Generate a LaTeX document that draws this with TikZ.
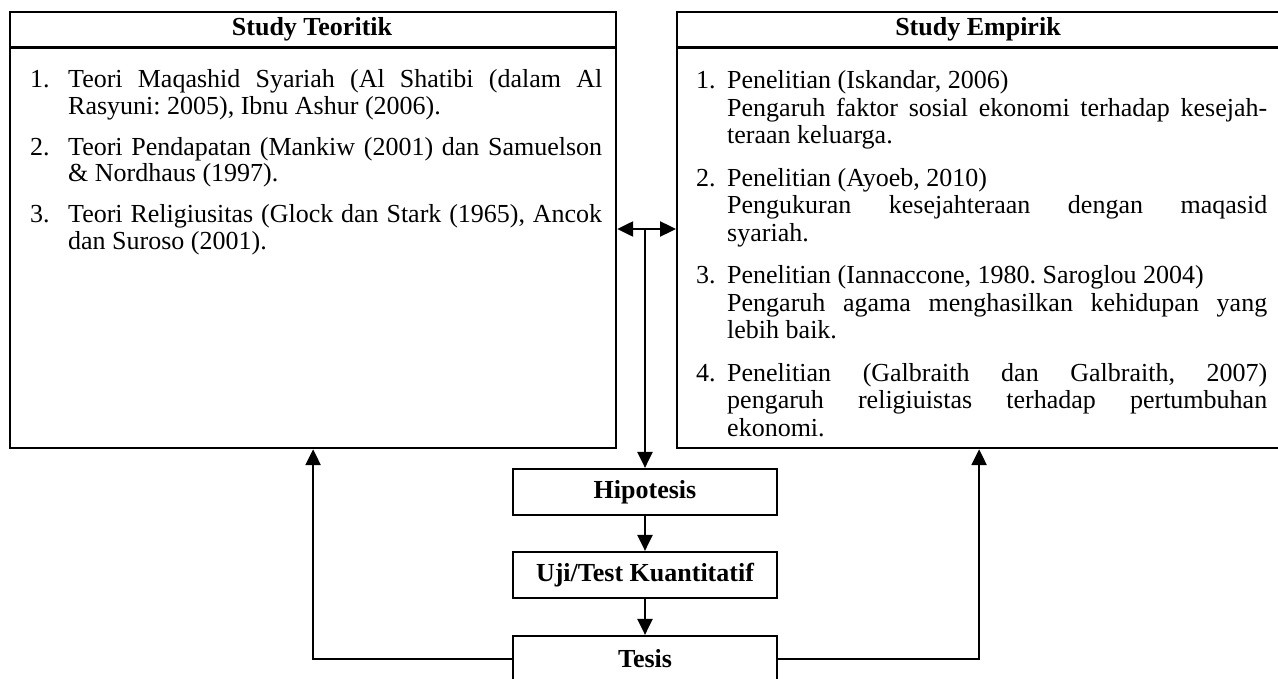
\documentclass[tikz,border=0pt]{standalone}
\usepackage{fontspec}
\setmainfont{Liberation Serif}
\usetikzlibrary{arrows.meta}
\newlength\indw
\newcommand\itm[2]{\par\noindent\hangindent=\indw\hangafter=1\makebox[\indw][l]{#1}#2\par}
\begin{document}
\begin{tikzpicture}[x=1pt,y=-1pt,
  panel/.style={draw, line width=2.2pt, inner sep=0pt, anchor=north west, minimum height=436pt},
  hdr/.style={font=\bfseries\fontsize{26pt}{28pt}\selectfont, inner sep=0pt},
  body/.style={anchor=north west, inner sep=0pt, align=justify},
  lbl/.style={draw, line width=2.2pt, minimum width=264pt, minimum height=46pt, inner sep=0pt,
    font=\bfseries\fontsize{26pt}{28pt}\selectfont},
  conn/.style={line width=2.4pt, -{Triangle[length=16pt,width=15pt]}},
  dconn/.style={line width=2.4pt, {Triangle[length=16pt,width=15pt]}-{Triangle[length=16pt,width=15pt]}}
]
\useasboundingbox (0,0) rectangle (1278,679);
% panels
\node[panel, minimum width=606pt] (lbox) at (9,11) {};
\node[panel, minimum width=604pt] (rbox) at (676,11) {};
\draw[line width=3pt] ([yshift=-37pt]lbox.north west) -- ([yshift=-37pt]lbox.north east);
\draw[line width=3pt] ([yshift=-37pt]rbox.north west) -- ([yshift=-37pt]rbox.north east);
\node[hdr] (lt) at (312,29.5) {Study Teoritik};
\node[hdr] (rt) at (978,29.5) {Study Empirik};
% left text
\node[body, text width=572pt] (ltext) at (30,61) {\fontsize{26pt}{26.5pt}\selectfont\frenchspacing
  \setlength\indw{38pt}%
  \itm{1.}{Teori Maqashid Syariah (Al Shatibi (dalam Al\linebreak Rasyuni: 2005), Ibnu Ashur (2006).}
  \vspace{14.5pt}
  \itm{2.}{Teori Pendapatan (Mankiw (2001) dan Samuelson\linebreak \& Nordhaus (1997).}
  \vspace{14.5pt}
  \itm{3.}{Teori Religiusitas (Glock dan Stark (1965), Ancok\linebreak dan Suroso (2001).}
};
% right text
\node[body, text width=571pt] (rtext) at (696,61) {\fontsize{26pt}{27.5pt}\selectfont\frenchspacing
  \setlength\indw{31pt}%
  \itm{1.}{Penelitian (Iskandar, 2006)\\ Pengaruh faktor sosial ekonomi terhadap kesejah-\linebreak teraan keluarga.}
  \vspace{15pt}
  \itm{2.}{Penelitian (Ayoeb, 2010)\\ Pengukuran kesejahteraan dengan maqasid\linebreak syariah.}
  \vspace{15pt}
  \itm{3.}{Penelitian (Iannaccone, 1980. Saroglou 2004)\\ Pengaruh agama menghasilkan kehidupan yang\linebreak lebih baik.}
  \vspace{15pt}
  \itm{4.}{Penelitian (Galbraith dan Galbraith, 2007)\linebreak pengaruh religiuistas terhadap pertumbuhan\linebreak ekonomi.}
};
% flow boxes
\node[lbl] (hip) at (645,492) {Hipotesis};
\node[lbl] (uji) at (645,575) {Uji/Test Kuantitatif};
\node[lbl] (tes) at (645,659) {Tesis};
% connectors
\coordinate (mid) at (hip.north |- 0,229);
\draw[dconn] (lbox.east |- mid) -- (rbox.west |- mid);
\draw[conn] (mid) -- (hip.north);
\draw[conn] (hip) -- (uji);
\draw[conn] (uji) -- (tes);
\draw[conn] (tes.west) -| (lbox.south);
\draw[conn] (tes.east) -| (rbox.south);
\end{tikzpicture}
\end{document}
